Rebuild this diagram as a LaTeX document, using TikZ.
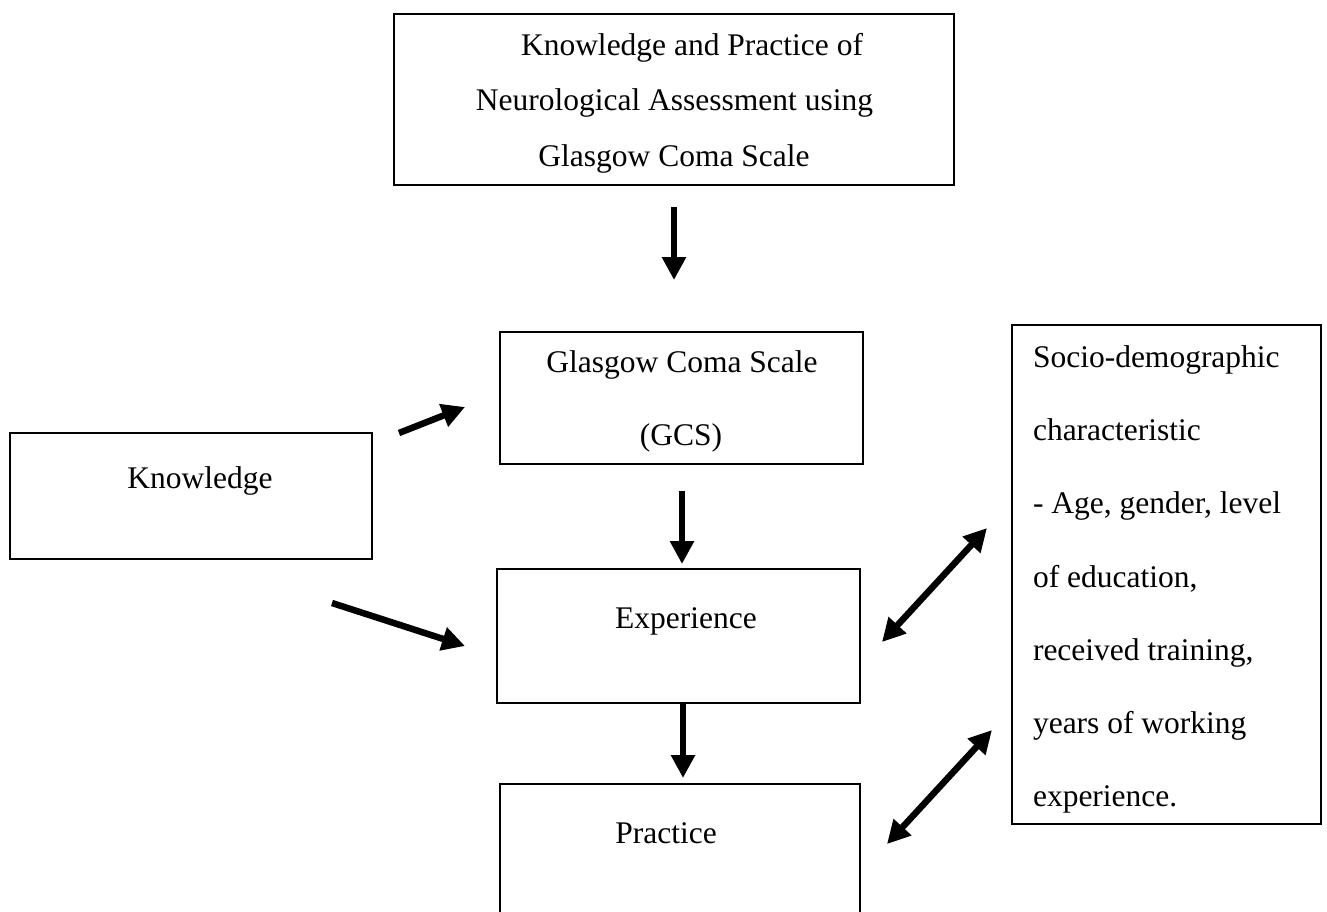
\documentclass[tikz,border=0pt]{standalone}
\usepackage{fontspec}
\setmainfont{Liberation Serif}
\usetikzlibrary{arrows.meta}
\begin{document}
\begin{tikzpicture}[x=1pt,y=-1pt,
  box/.style={draw, line width=2.6pt, inner sep=0pt, outer sep=0pt},
  txt/.style={inner sep=0pt, outer sep=0pt, font=\fontsize{31.5}{37}\selectfont},
  arr/.style={line width=6.5pt, -{Triangle[length=23pt,width=23pt]}},
  darr/.style={line width=6.5pt, {Triangle[length=23pt,width=23pt]}-{Triangle[length=23pt,width=23pt]}}]
\useasboundingbox (0,0) rectangle (1327,911);
\clip (0,0) rectangle (1327,911);
\fill[white] (0,0) rectangle (1327,911);

% boxes
\node[box, minimum width=560pt, minimum height=171pt] (top) at (674,99.5) {};
\node[box, minimum width=363pt, minimum height=132pt] (gcs) at (681.5,398) {};
\node[box, minimum width=362pt, minimum height=126pt] (know) at (191,496) {};
\node[box, minimum width=363pt, minimum height=134pt] (exp) at (678.5,636) {};
\node[box, minimum width=360pt, minimum height=156pt] (prac) at (680,862) {};
\node[box, minimum width=309pt, minimum height=499pt] (socio) at (1166.5,574.5) {};

% texts
\node[txt, anchor=base] (t1) at (692,55) {Knowledge and Practice of};
\node[txt, anchor=base] (t2) at (674.5,110) {Neurological Assessment using};
\node[txt, anchor=base] (t3) at (674,166) {Glasgow Coma Scale};
\node[txt, anchor=base] (g1) at (682,372) {Glasgow Coma Scale};
\node[txt, anchor=base] (g2) at (681,445) {(GCS)};
\node[txt, anchor=base] (k1) at (200,488) {Knowledge};
\node[txt, anchor=base] (e1) at (686,628) {Experience};
\node[txt, anchor=base] (p1) at (666,843) {Practice};
\foreach \t [count=\i from 0] in {Socio-demographic, characteristic, {- Age, gender, level}, {of education,}, {received training,}, years of working, experience.}
  \node[txt, anchor=base west] (s\i) at (1033,367+73.33*\i) {\t};

% connector end points
\coordinate (a1s) at (674,207); \coordinate (a1e) at (674,280);
\coordinate (a2s) at (399,433); \coordinate (a2e) at (465,407);
\coordinate (a3s) at (332,603); \coordinate (a3e) at (465,646);
\coordinate (a4s) at (682,491); \coordinate (a4e) at (682,564);
\coordinate (a5s) at (683,703); \coordinate (a5e) at (683,778);
\coordinate (d1s) at (882,642); \coordinate (d1e) at (987,528);
\coordinate (d2s) at (887,844); \coordinate (d2e) at (992,730);

% arrows
\draw[arr] (a1s) -- (a1e);
\draw[arr] (a2s) -- (a2e);
\draw[arr] (a3s) -- (a3e);
\draw[arr] (a4s) -- (a4e);
\draw[arr] (a5s) -- (a5e);
\draw[darr] (d1s) -- (d1e);
\draw[darr] (d2s) -- (d2e);
\end{tikzpicture}
\end{document}
